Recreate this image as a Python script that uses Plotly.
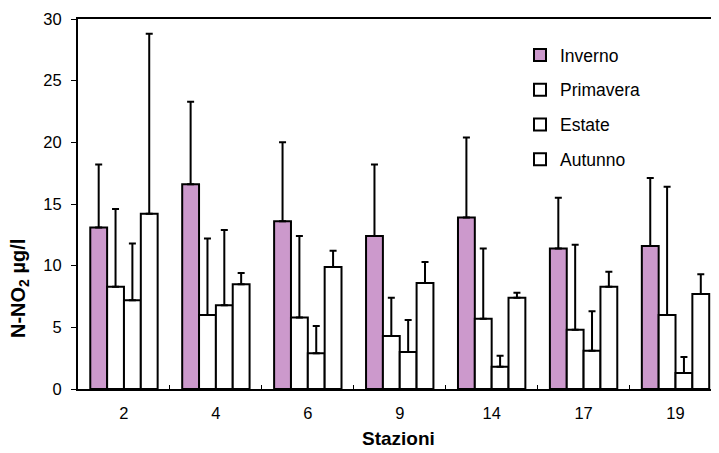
import plotly.graph_objects as go

stations = ["2", "4", "6", "9", "14", "17", "19"]
series_names = ["Inverno", "Primavera", "Estate", "Autunno"]
inverno = [13.1, 16.6, 13.6, 12.4, 13.9, 11.4, 11.6]
inverno_err = [5.1, 6.7, 6.4, 5.8, 6.5, 4.1, 5.5]
primavera = [8.3, 6.0, 5.8, 4.3, 5.7, 4.8, 6.0]
primavera_err = [6.3, 6.2, 6.6, 3.1, 5.7, 6.9, 10.4]
estate = [7.2, 6.8, 2.9, 3.0, 1.8, 3.1, 1.3]
estate_err = [4.6, 6.1, 2.2, 2.6, 0.9, 3.2, 1.3]
autunno = [14.2, 8.5, 9.9, 8.6, 7.4, 8.3, 7.7]
autunno_err = [14.6, 0.9, 1.3, 1.7, 0.4, 1.2, 1.6]

values = [inverno, primavera, estate, autunno]
errors = [inverno_err, primavera_err, estate_err, autunno_err]
fills = ["#cc99cc", "#ffffff", "#ffffff", "#ffffff"]

FONT = "Liberation Sans, Arial, sans-serif"

fig = go.Figure()
for name, vals, errs, fill in zip(series_names, values, errors, fills):
    fig.add_trace(go.Bar(
        x=stations, y=vals, name=name, legendgroup=name,
        marker=dict(color=fill, line=dict(color="black", width=2)),
        error_y=dict(type="data", array=errs, arrayminus=[0] * len(errs),
                     symmetric=False, color="black", thickness=2, width=3.5),
    ))

# page body adds an 8px offset; figure coordinates below are screen - 8
OFF = 8
W, H = 719 - OFF, 453 - OFF
L, R, T = 78 - OFF, 0, 19 - OFF
B = H - (389 - OFF)
pw = W - L - R
ph = H - T - B


def px_x(sx):
    return (sx - OFF - L) / pw


def px_y(sy):
    return 1 - (sy - OFF - T) / ph


fig.update_layout(
    width=W, height=H,
    margin=dict(l=L, r=R, t=T, b=B),
    paper_bgcolor="white", plot_bgcolor="white",
    barmode="group", bargap=0.267, bargroupgap=0,
    font=dict(family=FONT, size=16, color="black"),
    showlegend=True,
    legend=dict(x=px_x(520), xanchor="left", y=px_y(37), yanchor="top",
                traceorder="grouped", tracegroupgap=9,
                font=dict(family=FONT, size=17.5, color="black"),
                bgcolor="rgba(0,0,0,0)", itemwidth=30),
    xaxis=dict(type="category", range=[-0.5, 6.473],
               showline=True, linecolor="black", linewidth=2, mirror=True,
               ticks="inside", tickson="boundaries", ticklen=4, tickcolor="black",
               tickwidth=1, showgrid=False, zeroline=False, ticklabelstandoff=8,
               tickfont=dict(family=FONT, size=16.5, color="black")),
    yaxis=dict(range=[0, 30], tickvals=[0, 5, 10, 15, 20, 25, 30],
               showline=True, linecolor="black", linewidth=2,
               ticks="outside", ticklen=5, tickcolor="black", tickwidth=1,
               showgrid=False, zeroline=False, ticklabelstandoff=6,
               tickfont=dict(family=FONT, size=16.5, color="black")),
    annotations=[
        dict(text="<b>Stazioni</b>", xref="paper", yref="paper",
             x=px_x(398), y=px_y(438), xanchor="center", yanchor="middle",
             showarrow=False, font=dict(family=FONT, size=19, color="black")),
        dict(text="<b>N-NO<sub>2</sub> µg/l</b>", xref="paper", yref="paper",
             x=px_x(19), y=px_y(289), xanchor="center", yanchor="middle",
             textangle=-90, showarrow=False,
             font=dict(family=FONT, size=20, color="black")),
    ],
)

fig.write_html("out.html")
